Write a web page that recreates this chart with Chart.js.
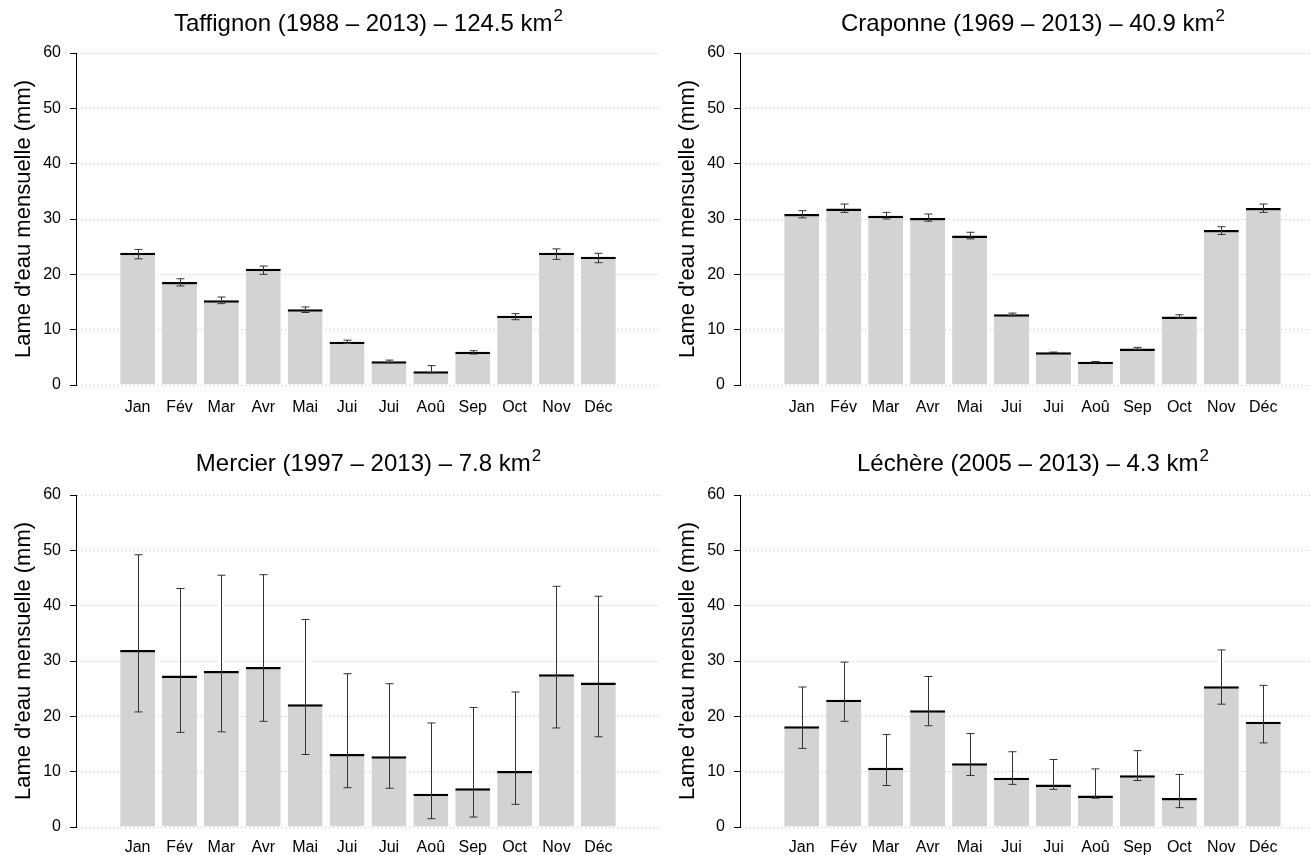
<!DOCTYPE html>
<html>
<head>
<meta charset="utf-8">
<script src="https://cdn.jsdelivr.net/npm/chart.js@4.4.0/dist/chart.umd.min.js"></script>
<style>
    html, body { margin: 0; padding: 0; background: #fff; overflow: hidden; }
    .panneau { position: absolute; }
</style>
</head>
<body>
<div class="panneau" style="left:0;top:0;width:660px;height:442px"><canvas id="taffignon"></canvas></div>
<div class="panneau" style="left:655px;top:0;width:670px;height:442px"><canvas id="craponne"></canvas></div>
<div class="panneau" style="left:0;top:442px;width:660px;height:413px"><canvas id="mercier"></canvas></div>
<div class="panneau" style="left:655px;top:442px;width:670px;height:413px"><canvas id="lechere"></canvas></div>
<script>
const mois = ['Jan', 'Fév', 'Mar', 'Avr', 'Mai', 'Jui', 'Jui', 'Aoû', 'Sep', 'Oct', 'Nov', 'Déc'];
const graduationsY = [0, 10, 20, 30, 40, 50, 60];

// lame d'eau moyenne (mm) et bornes des barres d'erreur
const taffignonMoy  = [23.9, 18.6, 15.3, 21.0, 13.7, 7.8, 4.3, 2.5, 6.0, 12.5, 23.9, 23.2];
const taffignonBas  = [22.8, 17.9, 14.7, 20.0, 13.1, 7.5, 4.0, 2.2, 5.6, 11.8, 22.7, 22.1];
const taffignonHaut = [24.5, 19.2, 15.9, 21.5, 14.1, 8.1, 4.5, 3.5, 6.2, 12.9, 24.6, 23.8];

const craponneMoy  = [30.9, 31.9, 30.6, 30.2, 27.0, 12.8, 5.9, 4.2, 6.6, 12.4, 28.0, 32.0];
const craponneBas  = [30.2, 31.2, 30.0, 29.6, 26.4, 12.5, 5.85, 4.15, 6.45, 12.1, 27.2, 31.2];
const craponneHaut = [31.5, 32.7, 31.2, 30.9, 27.6, 13.0, 5.95, 4.25, 6.8, 12.7, 28.6, 32.7];

const mercierMoy  = [32.0, 27.4, 28.2, 28.9, 22.2, 13.2, 12.8, 6.0, 7.0, 10.1, 27.6, 26.1];
const mercierBas  = [20.8, 17.1, 17.2, 19.1, 13.1, 7.1, 7.0, 1.5, 1.8, 4.1, 17.9, 16.3];
const mercierHaut = [49.2, 43.1, 45.5, 45.6, 37.5, 27.7, 25.9, 18.8, 21.6, 24.4, 43.5, 41.7];

const lechereMoy  = [18.2, 23.0, 10.7, 21.1, 11.5, 8.9, 7.7, 5.7, 9.35, 5.25, 25.45, 19.0];
const lechereBas  = [14.2, 19.1, 7.5, 18.3, 9.3, 7.7, 6.8, 5.2, 8.4, 3.5, 22.2, 15.2];
const lechereHaut = [25.3, 29.8, 16.7, 27.2, 16.9, 13.6, 12.2, 10.5, 13.8, 9.5, 32.0, 25.6];

const police = '"Liberation Sans", Arial, Helvetica, sans-serif';

// titre centré sur la zone de tracé, avec l'exposant de km²
const titrePanneau = {
    id: 'titrePanneau',
    afterDraw(chart, args, opts) {
        const { ctx, chartArea } = chart;
        const cx = (chartArea.left + chartArea.right) / 2;
        ctx.save();
        ctx.fillStyle = '#000';
        ctx.textAlign = 'left';
        ctx.textBaseline = 'alphabetic';
        ctx.font = `24px ${police}`;
        const w1 = ctx.measureText(opts.texte).width;
        ctx.font = `17px ${police}`;
        const w2 = ctx.measureText('2').width;
        const x0 = cx - (w1 + w2) / 2;
        ctx.font = `24px ${police}`;
        ctx.fillText(opts.texte, x0, opts.ligne);
        ctx.font = `17px ${police}`;
        ctx.fillText('2', x0 + w1 + 1, opts.ligne - 10);
        ctx.restore();
    }
};

const barresErreur = {
    id: 'barresErreur',
    afterDatasetsDraw(chart, args, opts) {
        const { ctx } = chart;
        const echelleY = chart.scales.y;
        const meta = chart.getDatasetMeta(0);
        ctx.save();
        ctx.strokeStyle = '#333';
        ctx.lineWidth = 1;
        meta.data.forEach((barre, i) => {
            const x = Math.round(barre.x) + 0.5;
            const yb = echelleY.getPixelForValue(opts.bas[i]);
            const yh = echelleY.getPixelForValue(opts.haut[i]);
            ctx.beginPath();
            ctx.moveTo(x, yb); ctx.lineTo(x, yh);
            ctx.moveTo(x - 4, yb); ctx.lineTo(x + 4, yb);
            ctx.moveTo(x - 4, yh); ctx.lineTo(x + 4, yh);
            ctx.stroke();
        });
        ctx.restore();
    }
};

function graficarPanneau(id, titre, moy, bas, haut, largeurAxe, hauteurX, ligneTitre, margeTitreY, margeMois) {
    new Chart(document.getElementById(id), {
        type: 'bar',
        data: {
            datasets: [{
                data: moy.map((v, i) => ({ x: i + 1, y: v })),
                backgroundColor: '#d3d3d3',
                borderColor: '#000',
                borderWidth: { top: 2.5, left: 0, right: 0, bottom: 0 },
                borderSkipped: 'start',
                categoryPercentage: 1,
                barPercentage: 0.833
            }]
        },
        options: {
            responsive: true,
            maintainAspectRatio: false,
            animation: false,
            layout: { padding: { top: 53, left: 0, right: 0, bottom: 0 } },
            plugins: {
                legend: { display: false },
                tooltip: { enabled: false },
                titrePanneau: { texte: titre, ligne: ligneTitre },
                barresErreur: { bas, haut }
            },
            scales: {
                x: {
                    type: 'linear',
                    min: 0.11,
                    max: 12.89,
                    afterBuildTicks: s => { s.ticks = mois.map((m, i) => ({ value: i + 1 })); },
                    afterFit: s => { s.height = hauteurX; },
                    grid: { display: false, drawTicks: false },
                    border: { display: false },
                    ticks: {
                        autoSkip: false,
                        maxRotation: 0,
                        padding: margeMois,
                        color: '#000',
                        font: { family: police, size: 16 },
                        callback: v => mois[Math.round(v) - 1]
                    }
                },
                y: {
                    min: 0,
                    max: 60,
                    afterBuildTicks: s => { s.ticks = graduationsY.map(v => ({ value: v })); },
                    afterFit: s => { s.width = largeurAxe; },
                    grid: {
                        color: '#c4c4c4',
                        lineWidth: 1,
                        drawTicks: true,
                        tickLength: 6,
                        tickColor: '#000',
                        tickBorderDash: []
                    },
                    border: { display: true, color: '#000', width: 1, dash: [1, 3] },
                    ticks: {
                        padding: 9,
                        color: '#000',
                        font: { family: police, size: 16 }
                    },
                    title: {
                        display: true,
                        text: "Lame d'eau mensuelle (mm)",
                        color: '#000',
                        font: { family: police, size: 22 },
                        padding: { top: margeTitreY, bottom: 0 }
                    }
                }
            }
        },
        plugins: [titrePanneau, barresErreur]
    });
}

graficarPanneau('taffignon', 'Taffignon (1988 – 2013) – 124.5 km', taffignonMoy, taffignonBas, taffignonHaut, 76, 57, 31, 11, 13);
graficarPanneau('craponne', 'Craponne (1969 – 2013) – 40.9 km', craponneMoy, craponneBas, craponneHaut, 85, 57, 31, 20, 13);
graficarPanneau('mercier', 'Mercier (1997 – 2013) – 7.8 km', mercierMoy, mercierBas, mercierHaut, 76, 28, 29, 11, 11);
graficarPanneau('lechere', 'Léchère (2005 – 2013) – 4.3 km', lechereMoy, lechereBas, lechereHaut, 85, 28, 29, 20, 11);
</script>
</body>
</html>
